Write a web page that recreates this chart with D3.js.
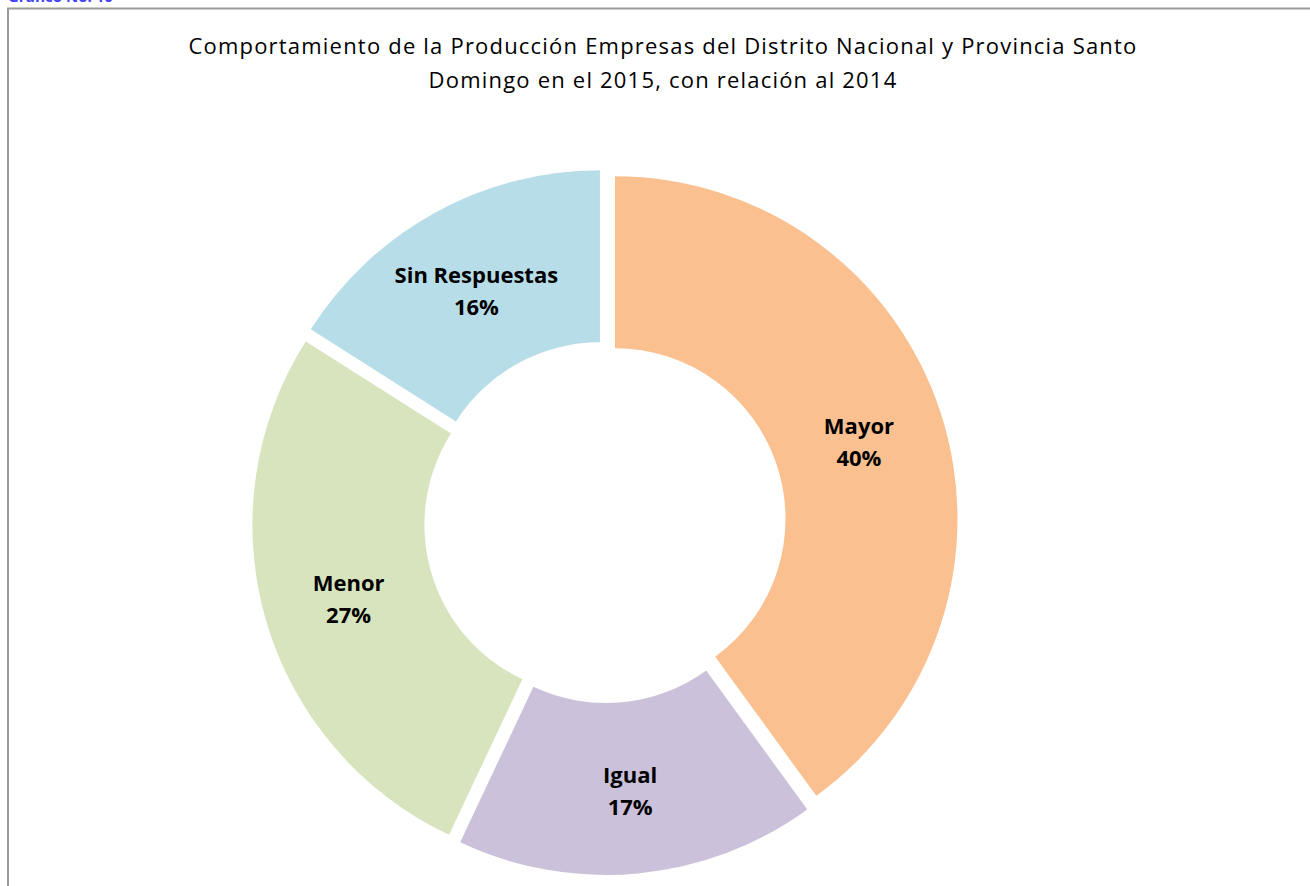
<!DOCTYPE html>
<html>
<head>
<meta charset="utf-8">
<script src="https://cdn.jsdelivr.net/npm/d3@7"></script>
<style>
  body { margin: 0; background: #fff; }
  svg { display: block; }
  .title { font-family: 'Open Sans', sans-serif; font-size: 22px; letter-spacing: 1.2px; fill: #000; }
  .label { font-family: 'Open Sans', sans-serif; font-size: 22px; font-weight: bold; fill: #000; }
</style>
</head>
<body>
<div id="chart"></div>
<script>
// data
const categories = ['Mayor', 'Igual', 'Menor', 'Sin Respuestas'];
const percentValues = [40, 17, 27, 16];
const sliceColors = ['#FAC090', '#CCC1DA', '#D7E4BD', '#B7DEE8'];
const titleLines = [
    'Comportamiento de la Producción Empresas del  Distrito Nacional y Provincia Santo',
    'Domingo en el 2015, con relación al 2014'
];

const width = 1310;
const height = 886;
const cx = 605;
const cy = 522;
const outerR = 342.5;
const innerR = 170.5;
const explode = 10.5;

const svg = d3.select('#chart').append('svg')
    .attr('width', width)
    .attr('height', height);

// caption above the frame, mostly outside the window like in the source
svg.append('text')
    .attr('x', 8)
    .attr('y', 2)
    .attr('fill', '#3f3fff')
    .attr('font-family', 'Open Sans, sans-serif')
    .attr('font-size', 15)
    .attr('font-weight', 'bold')
    .text('Gráfico No. 10');

// chart frame
svg.append('rect')
    .attr('x', 8)
    .attr('y', 8.5)
    .attr('width', 1400)
    .attr('height', 1000)
    .attr('fill', 'none')
    .attr('stroke', '#9a9a9a')
    .attr('stroke-width', 2);

svg.selectAll('.title')
    .data(titleLines)
    .enter()
    .append('text')
    .attr('class', 'title')
    .attr('x', 663)
    .attr('y', (d, i) => 54 + i * 34)
    .attr('text-anchor', 'middle')
    .text(d => d);

const pie = d3.pie().sort(null).value(d => d.value);
const arc = d3.arc().innerRadius(innerR).outerRadius(outerR);
const labelArc = d3.arc().innerRadius((innerR + outerR) / 2).outerRadius((innerR + outerR) / 2);

const data = categories.map((c, i) => ({ name: c, value: percentValues[i], color: sliceColors[i] }));
const arcs = pie(data);

// each slice is pushed out a little along its middle angle
const offset = (d) => {
    const mid = (d.startAngle + d.endAngle) / 2;
    return [Math.sin(mid) * explode, -Math.cos(mid) * explode];
};

const chart = svg.append('g').attr('transform', `translate(${cx}, ${cy})`);

const slice = chart.selectAll('.slice')
    .data(arcs)
    .enter()
    .append('g')
    .attr('class', 'slice')
    .attr('transform', d => `translate(${offset(d)[0]}, ${offset(d)[1]})`);

slice.append('path')
    .attr('d', arc)
    .attr('fill', d => d.data.color);

const label = slice.append('text')
    .attr('class', 'label')
    .attr('text-anchor', 'middle')
    .attr('transform', d => `translate(${labelArc.centroid(d)[0]}, ${labelArc.centroid(d)[1]})`);

label.append('tspan')
    .attr('x', 0)
    .attr('y', -5)
    .text(d => d.data.name);

label.append('tspan')
    .attr('x', 0)
    .attr('y', 27)
    .text(d => `${d.data.value}%`);
</script>
</body>
</html>
